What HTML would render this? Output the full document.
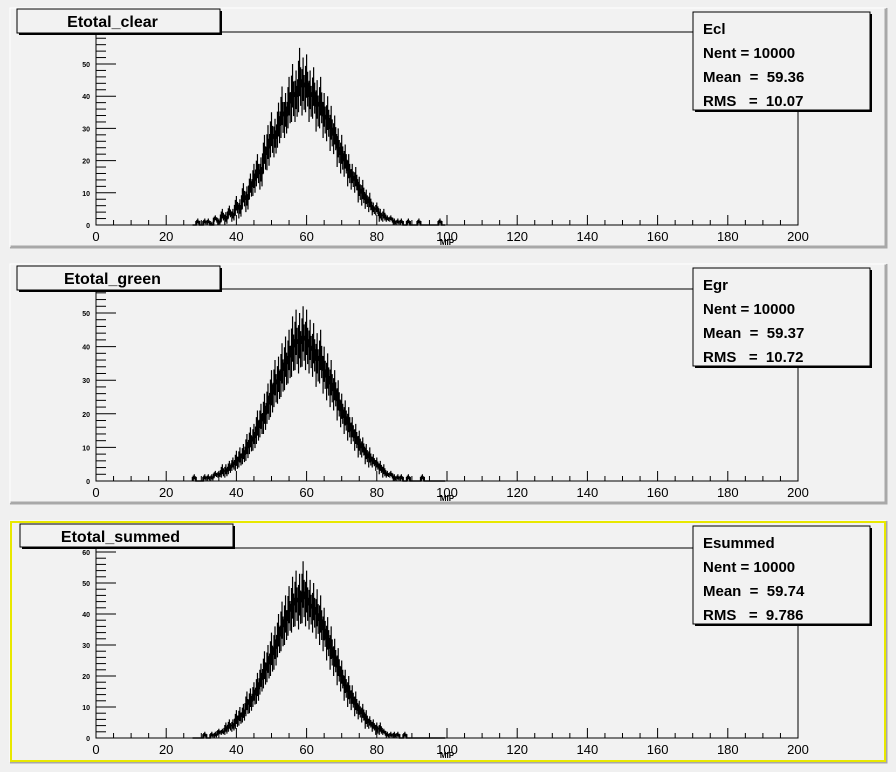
<!DOCTYPE html>
<html><head><meta charset="utf-8"><style>
body{margin:0;background:#f0f0f0;}
svg{display:block;font-family:"Liberation Sans",Arial,sans-serif;}
.pre{white-space:pre;}
</style></head><body>
<svg id="c" width="896" height="772" viewBox="0 0 896 772" xmlns="http://www.w3.org/2000/svg">
<rect x="0" y="0" width="896" height="772" fill="#f0f0f0"/>
</svg>
<script>
// bin centers x = 28..99, counts
const binStart = 28;
const xTicks = [0,20,40,60,80,100,120,140,160,180,200];
const countsClear = [0,1,0,1,1,0,2,1,3,2,4,3,6,5,9,8,12,14,17,16,22,24,28,27,31,35,34,38,41,40,45,43,44,40,41,37,38,34,33,30,28,24,22,20,17,15,14,11,10,8,7,5,5,3,3,2,2,1,1,1,0,1,0,0,1,0,0,0,0,0,1,0];
const spreadClear = [0,1,0,1,1,1,1,1,2,2,2,2,3,3,4,4,4,5,5,5,6,7,7,6,7,8,7,8,9,8,10,9,9,8,8,8,8,7,7,7,6,6,6,5,5,4,4,4,4,3,3,2,2,2,2,1,1,1,1,1,0,1,0,0,1,0,0,0,0,0,1,0];
const countsGreen = [1,0,0,1,1,1,2,2,3,3,4,5,6,7,8,10,12,13,16,18,20,23,26,29,30,33,35,37,40,42,41,43,42,40,39,36,37,33,31,29,27,24,21,19,17,15,13,11,10,8,7,6,5,4,3,2,2,1,1,1,0,1,0,0,0,1,0,0,0,0,0,0];
const spreadGreen = [1,0,0,1,1,1,1,1,2,2,2,2,3,3,3,4,4,4,5,5,6,6,7,7,7,8,8,8,9,9,9,9,9,8,8,8,8,7,7,7,6,6,5,5,5,4,4,4,3,3,3,2,2,2,2,1,1,1,1,1,0,1,0,0,0,1,0,0,0,0,0,0];
const countsSummed = [0,0,0,1,0,1,1,2,2,3,4,4,6,7,8,11,12,14,16,19,22,24,27,29,33,36,38,41,43,45,44,47,45,43,42,40,38,35,32,29,26,23,20,17,15,13,11,9,8,6,5,4,3,3,2,1,1,1,1,0,1,0,0,0,0,0,0,0,0,0,0,0];
const spreadSummed = [0,0,0,1,0,1,1,1,1,2,2,2,3,3,3,4,4,4,5,5,6,6,7,7,7,8,8,8,9,9,9,10,9,8,8,8,8,7,7,7,6,6,5,5,5,4,4,3,3,3,2,2,2,2,1,1,1,1,1,0,1,0,0,0,0,0,0,0,0,0,0,0];
const panels = [
 {name:'clear', title:'Etotal_clear', stat:'Ecl', nent:'10000', mean:'59.36', rms:'10.07', counts:countsClear, spread:spreadClear, yTicks:[0,10,20,30,40,50]},
 {name:'green', title:'Etotal_green', stat:'Egr', nent:'10000', mean:'59.37', rms:'10.72', counts:countsGreen, spread:spreadGreen, yTicks:[0,10,20,30,40,50]},
 {name:'summed', title:'Etotal_summed', stat:'Esummed', nent:'10000', mean:'59.74', rms:'9.786', counts:countsSummed, spread:spreadSummed, yTicks:[0,10,20,30,40,50,60]}
];
const geom = [
 {py:8, ph:239, ft:32, fb:225, ppu:3.22, tb:[17,9,203,24], sb:[693,12,177,98], border:null},
 {py:264, ph:239, ft:289, fb:481, ppu:3.36, tb:[17,266,203,24], sb:[693,268,177,98], border:null},
 {py:521, ph:241, ft:548, fb:738, ppu:3.1, tb:[20,524,213,23], sb:[693,526,177,98], border:'#e8e800'}
];
const svg=document.getElementById('c');const NS='http://www.w3.org/2000/svg';
function mk(t,a,p){const e=document.createElementNS(NS,t);for(const k in a)e.setAttribute(k,a[k]);(p||svg).appendChild(e);return e;}
const fx0=96, fx1=798;
function X(v){return fx0+(v/200)*(fx1-fx0);}
panels.forEach((P,i)=>{
 const G=geom[i];
 const g=mk('g',{});
 
 
 const Y=v=>G.fb-Math.max(0,v)*G.ppu;
 mk('rect',{x:10,y:G.py,width:876,height:G.ph,fill:'#f2f2f2',stroke:'none'},g);
 mk('path',{d:`M10 ${G.py+G.ph} H886 V${G.py}`,stroke:'#a8a8a8','stroke-width':3,fill:'none'},g);
 mk('path',{d:`M10 ${G.py+G.ph} V${G.py} H886`,stroke:'#ffffff','stroke-width':1,fill:'none'},g);
 if(G.border) mk('rect',{x:11,y:G.py+1,width:874,height:G.ph-2,fill:'none',stroke:G.border,'stroke-width':2},g);
 mk('rect',{x:fx0,y:G.ft,width:fx1-fx0,height:G.fb-G.ft,fill:'none',stroke:'#000','stroke-width':1},g);
 // histogram step line
 let d=`M${X(binStart-0.5)} ${Y(0)}`;
 P.counts.forEach((c,k)=>{const x0=X(binStart+k-0.5),x1=X(binStart+k+0.5);d+=` L${x0} ${Y(c)} L${x1} ${Y(c)}`;});
 d+=` L${X(binStart+P.counts.length-0.5)} ${Y(0)}`;
 const h=mk('path',{d:d,fill:'none',stroke:'#000','stroke-width':1.6},g);
 
 
 // fluctuation band (fine-bin noise)
 let n='';
 P.counts.forEach((c,k)=>{const s=P.spread[k];if(!s)return;
  const xa=X(binStart+k-0.3),xb=X(binStart+k),xc=X(binStart+k+0.3);
  n+=`M${xa} ${Y(c-s)} V${Y(c+s*0.6)} M${xb} ${Y(c+s)} V${Y(c-s*0.5)} M${xc} ${Y(c-s*0.8)} V${Y(c+s*0.4)} `;});
 const nz=mk('path',{d:n,fill:'none',stroke:'#000','stroke-width':1.2},g);
 
 
 for(let v=0;v<=200;v+=5){const big=v%20===0;mk('line',{x1:X(v),x2:X(v),y1:G.fb,y2:G.fb-(big?10:5),stroke:'#000'},g);}
 xTicks.forEach(v=>{const t=mk('text',{x:X(v),y:G.fb+16,'font-size':13,'text-anchor':'middle',fill:'#000'},g);t.textContent=v;
  });
 const mt=mk('text',{x:X(100),y:G.fb+20,'font-size':8,'font-weight':'bold','text-anchor':'middle'},g);mt.textContent='MIP';
 
 const ymax=(G.fb-G.ft)/G.ppu;
 for(let v=0;v<=ymax;v+=2){const big=v%10===0;mk('line',{x1:fx0,x2:fx0+(big?20:10),y1:Y(v),y2:Y(v),stroke:'#000'},g);}
 P.yTicks.forEach(v=>{const t=mk('text',{x:fx0-6,y:Y(v)+3,'font-size':7,'font-weight':'bold','text-anchor':'end'},g);t.textContent=v;
  });
 const tb=G.tb;
 mk('rect',{x:tb[0]+2,y:tb[1]+2,width:tb[2],height:tb[3],fill:'#000'},g);
 mk('rect',{x:tb[0],y:tb[1],width:tb[2],height:tb[3],fill:'#f2f2f2',stroke:'#000'},g);
 const tt=mk('text',{x:tb[0]+tb[2]/2-6,y:tb[1]+18,'font-size':16,'font-weight':'bold','text-anchor':'middle'},g);tt.textContent=P.title;
 
 const sb=G.sb;
 const sg=mk('g',{},g);
 
 
 mk('rect',{x:sb[0]+2,y:sb[1]+2,width:sb[2],height:sb[3],fill:'#000'},sg);
 mk('rect',{x:sb[0],y:sb[1],width:sb[2],height:sb[3],fill:'#f2f2f2',stroke:'#000'},sg);
 const lines=[P.stat,'Nent = '+P.nent,'Mean  =  '+P.mean,'RMS   =  '+P.rms];
 lines.forEach((s,k)=>{const t=mk('text',{x:sb[0]+10,y:sb[1]+22+k*24,'font-size':15,'font-weight':'bold','class':'pre'},sg);t.textContent=s;
  });
});
</script>
</body></html>
